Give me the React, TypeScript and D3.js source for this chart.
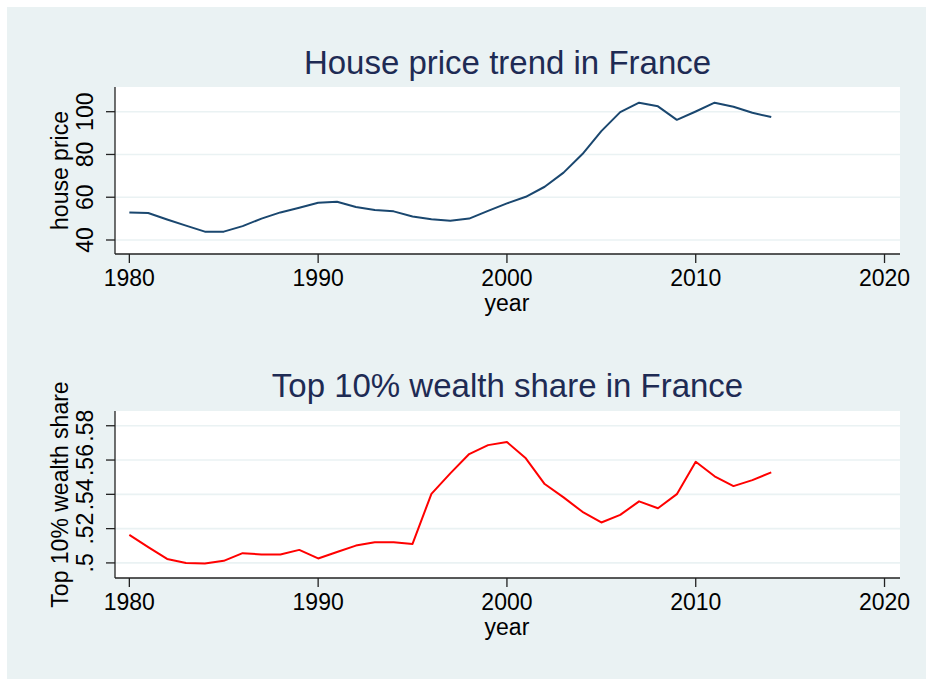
import React from "react";
import * as d3 from "d3";

const years = [1980,1981,1982,1983,1984,1985,1986,1987,1988,1989,1990,1991,1992,1993,1994,1995,1996,1997,1998,1999,2000,2001,2002,2003,2004,2005,2006,2007,2008,2009,2010,2011,2012,2013,2014];
const housePrice = [52.9,52.6,49.6,46.7,43.9,43.9,46.5,50.0,52.9,55.1,57.4,57.9,55.4,54.0,53.4,51.0,49.7,49.0,50.0,53.6,57.1,60.2,64.9,71.5,80.2,90.9,99.8,104.2,102.5,96.2,100.1,104.2,102.3,99.5,97.5];
const wealthShare = [0.5164,0.5092,0.5023,0.5000,0.4996,0.5012,0.5057,0.5049,0.5049,0.5076,0.5026,0.5064,0.5101,0.5121,0.5121,0.5111,0.5403,0.5522,0.5635,0.5687,0.5705,0.5610,0.5460,0.5382,0.5298,0.5236,0.5280,0.5359,0.5319,0.5401,0.5590,0.5505,0.5448,0.5483,0.5528];
const xTicks = [1980, 1990, 2000, 2010, 2020];
const houseTicks = [40, 60, 80, 100];
const wealthTicks = [0.5, 0.52, 0.54, 0.56, 0.58];
const wealthTickLabels = [".5", ".52", ".54", ".56", ".58"];

const BG = "#EAF2F3";
const FONT = "'Liberation Sans', Arial, Helvetica, sans-serif";
const TITLE_COLOR = "#1e2b54";
const AXIS_FS = 23;

type PanelProps = {
  top: number;
  bottom: number;
  title: string;
  titleY: number;
  yLabel: string;
  values: number[];
  yDomain: [number, number];
  yTicks: number[];
  yTickLabels: string[];
  color: string;
};

function Panel(p: PanelProps) {
  const left = 115;
  const right = 900;
  const x = d3.scaleLinear().domain([1979.24, 2020.82]).range([left, right]);
  const y = d3.scaleLinear().domain(p.yDomain).range([p.bottom, p.top]);
  const line = d3
    .line<number>()
    .x((_, i) => x(years[i]))
    .y((v) => y(v));
  const path = line(p.values) || "";
  const midY = (p.top + p.bottom) / 2;
  const midX = (left + right) / 2;
  return (
    <g>
      <text x={midX} y={p.titleY} textAnchor="middle" fontSize={33} fill={TITLE_COLOR} fontFamily={FONT}>
        {p.title}
      </text>
      <rect x={left} y={p.top} width={right - left} height={p.bottom - p.top} fill="#ffffff" />
      {p.yTicks.map((t) => (
        <line key={"g" + t} x1={left} x2={right} y1={y(t)} y2={y(t)} stroke={BG} strokeWidth={1.6} />
      ))}
      <path d={path} fill="none" stroke={p.color} strokeWidth={2} strokeLinejoin="round" />
      <line x1={left} x2={left} y1={p.top} y2={p.bottom} stroke="#222" strokeWidth={1.3} />
      <line x1={left} x2={right} y1={p.bottom} y2={p.bottom} stroke="#222" strokeWidth={1.3} />
      {p.yTicks.map((t, i) => (
        <g key={"yt" + t}>
          <line x1={left - 9} x2={left} y1={y(t)} y2={y(t)} stroke="#222" strokeWidth={1.3} />
          <text
            transform={`translate(${93},${y(t)}) rotate(-90)`}
            textAnchor="middle"
            fontSize={AXIS_FS}
            fill="#000"
            fontFamily={FONT}
          >
            {p.yTickLabels[i]}
          </text>
        </g>
      ))}
      <text
        transform={`translate(${68},${midY}) rotate(-90)`}
        textAnchor="middle"
        fontSize={AXIS_FS}
        fill="#000"
        fontFamily={FONT}
      >
        {p.yLabel}
      </text>
      {xTicks.map((t) => (
        <g key={"xt" + t}>
          <line x1={x(t)} x2={x(t)} y1={p.bottom} y2={p.bottom + 9} stroke="#222" strokeWidth={1.3} />
          <text x={x(t)} y={p.bottom + 32} textAnchor="middle" fontSize={AXIS_FS} fill="#000" fontFamily={FONT}>
            {t}
          </text>
        </g>
      ))}
      <text x={x(2000)} y={p.bottom + 57} textAnchor="middle" fontSize={AXIS_FS} fill="#000" fontFamily={FONT}>
        year
      </text>
    </g>
  );
}

export default function App() {
  return (
    <svg
      width={926}
      height={679}
      style={{ position: "absolute", left: 0, top: 0, background: "#ffffff" }}
    >
      <rect x={7} y={7} width={919} height={672} fill={BG} />
      <Panel
        top={87}
        bottom={254}
        title="House price trend in France"
        titleY={74}
        yLabel="house price"
        values={housePrice}
        yDomain={[33.45, 111.55]}
        yTicks={houseTicks}
        yTickLabels={houseTicks.map(String)}
        color="#1a476f"
      />
      <Panel
        top={411}
        bottom={578}
        title="Top 10% wealth share in France"
        titleY={397}
        yLabel="Top 10% wealth share"
        values={wealthShare}
        yDomain={[0.4912, 0.5886]}
        yTicks={wealthTicks}
        yTickLabels={wealthTickLabels}
        color="#ff0000"
      />
    </svg>
  );
}
